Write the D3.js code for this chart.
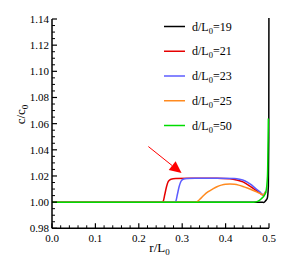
<!DOCTYPE html>
<html>
<head>
<meta charset="utf-8">
<script src="https://cdn.jsdelivr.net/npm/d3@7"></script>
<style>
  body { margin: 0; background: #fff; font-family: 'Liberation Serif'; }
</style>
</head>
<body>
<div id="chart"></div>
<script>
// Curves: r/L0 and c/c0 for each d/L0
const r19 = [0, 0.482, 0.488, 0.492, 0.496, 0.4985, 0.4995, 0.5];
const c19 = [1.0, 1.0, 0.9998, 1.001, 1.003, 1.012, 1.05, 1.2];

const r21 = [0, 0.252, 0.256, 0.26, 0.264, 0.268, 0.274, 0.285, 0.32, 0.38, 0.41, 0.425, 0.44, 0.455, 0.468, 0.478, 0.487, 0.4925];
const c21 = [1.0, 1.0, 1.0006, 1.006, 1.012, 1.0158, 1.0175, 1.018, 1.0182, 1.0182, 1.0178, 1.0170, 1.0155, 1.0125, 1.0095, 1.0072, 1.0055, 1.008];

const r23 = [0, 0.281, 0.285, 0.289, 0.293, 0.297, 0.302, 0.31, 0.33, 0.38, 0.42, 0.432, 0.445, 0.458, 0.47, 0.479, 0.487, 0.4925];
const c23 = [1.0, 1.0, 1.0006, 1.006, 1.012, 1.0158, 1.0175, 1.0181, 1.0182, 1.0182, 1.0180, 1.0175, 1.0162, 1.0135, 1.0102, 1.0078, 1.0055, 1.008];

const r25 = [0, 0.332, 0.34, 0.35, 0.36, 0.37, 0.38, 0.39, 0.40, 0.41, 0.42, 0.43, 0.44, 0.45, 0.46, 0.47, 0.48, 0.487, 0.4925];
const c25 = [1.0, 1.0, 1.002, 1.0053, 1.008, 1.010, 1.0118, 1.013, 1.0137, 1.0138, 1.0136, 1.013, 1.012, 1.0108, 1.0095, 1.008, 1.0066, 1.0056, 1.008];

const r50 = [0, 0.465, 0.475, 0.483, 0.489, 0.493, 0.4965, 0.4985];
const c50 = [1.0, 1.0, 1.0008, 1.0028, 1.005, 1.008, 1.02, 1.064];

const seriesLabels = ['19', '21', '23', '25', '50'];
const seriesColors = ['#000000', '#e60000', '#5c5cff', '#ff8a1f', '#00dc00'];

// tick labels
const xTicks = [0, 0.1, 0.2, 0.3, 0.4, 0.5];
const yTicks = [0.98, 1.00, 1.02, 1.04, 1.06, 1.08, 1.10, 1.12, 1.14];

// arrow annotation (data units): tail and tip
const arrowR = [0.222, 0.2985];
const arrowC = [1.0425, 1.0222];

const series = [
    { r: r19, c: c19 },
    { r: r21, c: c21 },
    { r: r23, c: c23 },
    { r: r25, c: c25 },
    { r: r50, c: c50 }
];

const FONT = 'Liberation Serif';
const W = 298, H = 262;
const svg = d3.select('#chart').append('svg')
    .attr('width', W).attr('height', H);

const x = d3.scaleLinear().domain([0, 0.5]).range([52, 269]);
const y = d3.scaleLinear().domain([0.98, 1.14]).range([228.3, 19]);

// clip for curves
svg.append('clipPath').attr('id', 'plotclip')
    .append('rect').attr('x', 40).attr('y', 18).attr('width', 240).attr('height', 212);

const line = d3.line()
    .x(d => x(d[0]))
    .y(d => y(d[1]))
    .curve(d3.curveMonotoneX);

const plot = svg.append('g').attr('clip-path', 'url(#plotclip)');
series.forEach((s, i) => {
    plot.append('path')
        .attr('d', line(s.r.map((v, k) => [v, s.c[k]])))
        .attr('fill', 'none')
        .attr('stroke', seriesColors[i])
        .attr('stroke-width', 1.5);
});

// axes: inward ticks, minor ticks
const axisG = svg.append('g');
axisG.append('line')
    .attr('x1', x(0)).attr('x2', x(0)).attr('y1', y(1.14)).attr('y2', y(0.98))
    .attr('stroke', '#000').attr('stroke-width', 1.5);
axisG.append('line')
    .attr('x1', x(0)).attr('x2', x(0.5)).attr('y1', y(0.98)).attr('y2', y(0.98))
    .attr('stroke', '#000').attr('stroke-width', 1.5);

const yMinor = d3.range(0.98, 1.1401, 0.005).filter(v => !yTicks.some(t => Math.abs(t - v) < 1e-6));
const xMinor = d3.range(0, 0.5001, 0.02).filter(v => !xTicks.some(t => Math.abs(t - v) < 1e-6));

yTicks.forEach(t => {
    axisG.append('line')
        .attr('x1', x(0)).attr('x2', x(0) + 5)
        .attr('y1', y(t)).attr('y2', y(t))
        .attr('stroke', '#000').attr('stroke-width', 1.2);
    axisG.append('text')
        .attr('x', x(0) - 3).attr('y', y(t) + 4)
        .attr('text-anchor', 'end')
        .style('font-family', FONT).style('font-size', '11px')
        .text(t.toFixed(2));
});
yMinor.forEach(t => {
    axisG.append('line')
        .attr('x1', x(0)).attr('x2', x(0) + 3)
        .attr('y1', y(t)).attr('y2', y(t))
        .attr('stroke', '#000').attr('stroke-width', 1);
});
xTicks.forEach(t => {
    axisG.append('line')
        .attr('x1', x(t)).attr('x2', x(t))
        .attr('y1', y(0.98)).attr('y2', y(0.98) - 5)
        .attr('stroke', '#000').attr('stroke-width', 1.2);
    axisG.append('text')
        .attr('x', x(t)).attr('y', 241.5)
        .attr('text-anchor', 'middle')
        .style('font-family', FONT).style('font-size', '11px')
        .text(t.toFixed(1));
});
xMinor.forEach(t => {
    axisG.append('line')
        .attr('x1', x(t)).attr('x2', x(t))
        .attr('y1', y(0.98)).attr('y2', y(0.98) - 3)
        .attr('stroke', '#000').attr('stroke-width', 1);
});

// axis titles
const yt = svg.append('text')
    .attr('transform', 'translate(25,114.5) rotate(-90)')
    .attr('text-anchor', 'middle')
    .style('font-family', FONT).style('font-size', '13px');
yt.append('tspan').text('c/c');
yt.append('tspan').style('font-size', '9px').attr('dy', 3).text('0');

const xt = svg.append('text')
    .attr('x', 159.5).attr('y', 251.5)
    .attr('text-anchor', 'middle')
    .style('font-family', FONT).style('font-size', '13px');
xt.append('tspan').text('r/L');
xt.append('tspan').style('font-size', '9px').attr('dy', 3).text('0');

// legend
const legendY = d3.scaleLinear().domain([0, 4]).range([26.5, 125.5]);
seriesLabels.forEach((lab, i) => {
    const ly = legendY(i);
    svg.append('line')
        .attr('x1', 164).attr('x2', 185).attr('y1', ly).attr('y2', ly)
        .attr('stroke', seriesColors[i]).attr('stroke-width', 1.5);
    const t = svg.append('text')
        .attr('x', 192).attr('y', ly + 4)
        .style('font-family', FONT).style('font-size', '12px');
    t.append('tspan').text('d/L');
    t.append('tspan').style('font-size', '8.5px').attr('dy', 3).text('0');
    t.append('tspan').attr('dy', -3).text('=' + lab);
});

// red arrow
const ax0 = x(arrowR[0]), ay0 = y(arrowC[0]);
const ax1 = x(arrowR[1]), ay1 = y(arrowC[1]);
const ang = Math.atan2(ay1 - ay0, ax1 - ax0);
const headL = 12, headW = 5.5;
const bx = ax1 - headL * Math.cos(ang), by = ay1 - headL * Math.sin(ang);
svg.append('line')
    .attr('x1', ax0).attr('y1', ay0).attr('x2', bx).attr('y2', by)
    .attr('stroke', '#ff0000').attr('stroke-width', 1);
svg.append('path')
    .attr('d', d3.line()([
        [ax1, ay1],
        [bx + headW * Math.sin(ang), by - headW * Math.cos(ang)],
        [bx - headW * Math.sin(ang), by + headW * Math.cos(ang)]
    ]) + 'Z')
    .attr('fill', '#ff0000');
</script>
</body>
</html>
